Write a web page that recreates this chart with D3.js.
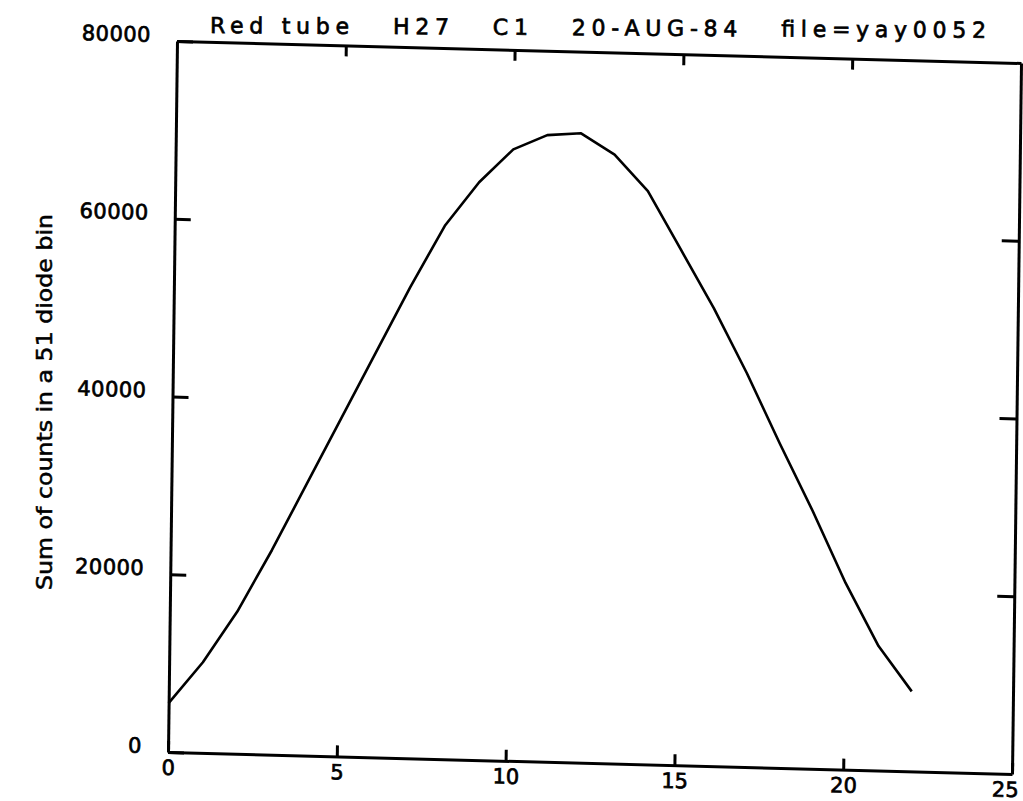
<!DOCTYPE html>
<html>
<head>
<meta charset="utf-8">
<script src="https://cdn.jsdelivr.net/npm/d3@7"></script>
<style>
  body { margin: 0; background: #fff; }
  text { fill: #000; }
</style>
</head>
<body>
<div id="chart"></div>
<script>
// data
var diode = [0,1,2,3,4,5,6,7,8,9,10,11,12,13,14,15,16,17,18,19,20,21,22]
var counts = [5500,10200,16000,23000,30500,38000,45500,53000,60000,65000,68800,70500,70800,68500,64500,58000,51500,44300,36500,29000,21000,14000,9000]
var xTicks = [0,5,10,15,20,25]
var yTicks = [0,20000,40000,60000,80000]
var title = "Red tube   H27   C1   20-AUG-84   file=yay0052"
var yLabel = "Sum of counts in a 51 diode bin"

var width = 1023
var height = 801

// plot box in its own (unskewed) space; the scan is slightly sheared
var W = 844
var H = 711

var svg = d3.select("#chart")
  .append("svg")
    .attr("width", width)
    .attr("height", height)

var x = d3.scaleLinear().domain([0, 25]).range([0, W])
var y = d3.scaleLinear().domain([0, 80000]).range([H, 0])

// corners of the frame in the picture: TL(177,41) TR(1021,63) BL(168,752)
var plot = svg.append("g")
  .attr("transform", "matrix(1," + (22/W) + "," + (-9/H) + ",1,177,41)")

var font = "'DejaVu Sans', Verdana, sans-serif"

// bottom axis with labels
var xAxis = plot.append("g")
  .attr("transform", "translate(0," + H + ")")
  .call(d3.axisBottom(x).tickValues(xTicks).tickSizeInner(-11).tickSizeOuter(0).tickPadding(8).tickFormat(d3.format("d")))

// left axis with labels
var yAxis = plot.append("g")
  .call(d3.axisLeft(y).tickValues(yTicks).tickSizeInner(-16).tickSizeOuter(0).tickPadding(26).tickFormat(d3.format("d")))

// top and right: ticks only
plot.append("g")
  .call(d3.axisTop(x).tickValues([5,10,15,20]).tickSizeInner(-11).tickSizeOuter(0).tickFormat(""))

plot.append("g")
  .attr("transform", "translate(" + W + ",0)")
  .call(d3.axisRight(y).tickValues([20000,40000,60000]).tickSizeInner(-17).tickSizeOuter(0).tickFormat(""))

plot.selectAll(".domain, .tick line")
  .attr("stroke", "#000")
  .attr("stroke-width", 3)

plot.selectAll(".tick text")
  .attr("font-family", font)
  .attr("font-size", 21)
  .attr("fill", "#000")
  .attr("stroke", "#000")
  .attr("stroke-width", 0.7)

yAxis.selectAll(".tick text").attr("letter-spacing", 0.5).attr("dy", "0.05em")

// last label sits right at the page edge
xAxis.selectAll(".tick text").filter(d => d == 25).attr("dx", -7)

var line = d3.line()
  .x(function(d, i){ return x(diode[i]) })
  .y(function(d){ return y(d) })

plot.append("path")
  .datum(counts)
  .attr("fill", "none")
  .attr("stroke", "#000")
  .attr("stroke-width", 2.6)
  .attr("stroke-linejoin", "round")
  .attr("d", line)

// title above the frame
svg.append("text")
  .attr("x", 210)
  .attr("y", 33)
  .attr("transform", "rotate(0.35,210,33)")
  .attr("font-family", font)
  .attr("font-size", 22)
  .attr("stroke", "#000")
  .attr("stroke-width", 0.7)
  .attr("textLength", 776)
  .attr("lengthAdjust", "spacing")
  .style("white-space", "pre")
  .text(title)

// y axis label
svg.append("text")
  .attr("transform", "translate(52,402) rotate(-90)")
  .attr("text-anchor", "middle")
  .attr("font-family", "'Liberation Sans Narrow', 'DejaVu Sans Condensed', sans-serif")
  .attr("font-size", 21)
  .attr("stroke", "#000")
  .attr("stroke-width", 0.5)
  .attr("textLength", 376)
  .attr("lengthAdjust", "spacingAndGlyphs")
  .text(yLabel)
</script>
</body>
</html>
